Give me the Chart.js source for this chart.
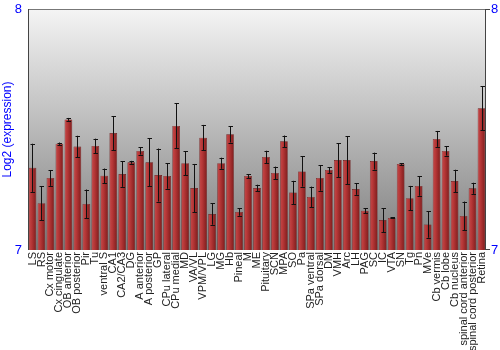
<!DOCTYPE html>
<html><head><meta charset="utf-8">
<script src="https://cdn.jsdelivr.net/npm/chart.js@4/dist/chart.umd.min.js"></script>
<style>html,body{margin:0;padding:0;background:#fff}#wrap{width:500px;height:350px}</style>
</head><body><div id="wrap"><canvas id="c" width="500" height="350"></canvas></div>
<script>
const categories = ["LS","RS","Cx motor","Cx cingulate","OB anterior","OB posterior","Pir","Tu","ventral S","CA1","CA2/CA3","DG","A anterior","A posterior","GP","CPu lateral","CPu medial","MD","VA/VL","VPM/VPL","LG","MG","Hb","Pineal","M","ME","Pituitary","SCN","MPA","SO","Pa","SPa ventral","SPa dorsal","DM","VMH","Arc","LH","PAG","SC","IC","VTA","SN","Tg","Pn","MVe","Cb vermis","Cb lobe","Cb nucleus","spinal cord anterior","spinal cord posterior","Retina"];
const values = [7.341,7.194,7.299,7.441,7.542,7.429,7.191,7.432,7.308,7.485,7.315,7.364,7.411,7.364,7.311,7.307,7.515,7.36,7.257,7.466,7.149,7.36,7.48,7.158,7.307,7.257,7.386,7.32,7.451,7.239,7.326,7.22,7.299,7.332,7.373,7.373,7.253,7.163,7.369,7.124,7.133,7.357,7.215,7.266,7.106,7.461,7.411,7.286,7.141,7.256,7.588];
const errors = [0.10,0.07,0.033,0.005,0.006,0.045,0.06,0.03,0.03,0.07,0.053,0.006,0.015,0.10,0.11,0.053,0.093,0.05,0.10,0.053,0.044,0.023,0.034,0.016,0.008,0.014,0.026,0.026,0.024,0.048,0.063,0.043,0.053,0.012,0.07,0.10,0.024,0.01,0.035,0.05,0.002,0.004,0.051,0.041,0.055,0.033,0.019,0.047,0.06,0.023,0.091];
const yTicks = [7, 8];
const yTitle = "Log2 (expression)";

const BAR_FRAC = 0.86;

const bgPlugin = {
  id: 'bg',
  beforeDraw(chart) {
    const {ctx, chartArea: a} = chart;
    const g = ctx.createLinearGradient(0, a.top, 0, a.bottom);
    g.addColorStop(0, '#f4f4f4');
    g.addColorStop(1, '#7e7e7e');
    ctx.save();
    ctx.fillStyle = g;
    ctx.fillRect(a.left, a.top, a.right - a.left, a.bottom - a.top);
    ctx.restore();
  },
  afterDatasetsDraw(chart) {
    const {ctx, chartArea: a, scales} = chart;
    const x = scales.x, y = scales.y;
    ctx.save();
    ctx.strokeStyle = '#111';
    ctx.lineWidth = 1;
    values.forEach((v, i) => {
      const px = Math.round(x.getPixelForValue(i)) + 0.5;
      const top = y.getPixelForValue(v + errors[i]);
      const bot = y.getPixelForValue(v - errors[i]);
      ctx.beginPath();
      ctx.moveTo(px, top); ctx.lineTo(px, bot);
      ctx.moveTo(px - 2, Math.round(top) + 0.5); ctx.lineTo(px + 2.5, Math.round(top) + 0.5);
      ctx.moveTo(px - 2, Math.round(bot) + 0.5); ctx.lineTo(px + 2.5, Math.round(bot) + 0.5);
      ctx.stroke();
    });
    ctx.strokeStyle = '#777';
    ctx.beginPath();
    ctx.moveTo(a.left, a.top + 0.5); ctx.lineTo(a.right, a.top + 0.5);
    ctx.stroke();
    ctx.strokeStyle = '#444';
    ctx.beginPath();
    ctx.moveTo(a.left + 0.5, a.top); ctx.lineTo(a.left + 0.5, a.bottom);
    ctx.moveTo(a.right - 0.5, a.top); ctx.lineTo(a.right - 0.5, a.bottom);
    ctx.moveTo(a.right, a.top + 0.5); ctx.lineTo(a.right + 4, a.top + 0.5);
    ctx.moveTo(a.right, a.bottom - 0.5); ctx.lineTo(a.right + 4, a.bottom - 0.5);
    ctx.stroke();
    ctx.restore();
  }
};

function barColor(context) {
  const chart = context.chart;
  const x = chart.scales && chart.scales.x;
  if (!x || x.width === undefined || !isFinite(x.getPixelForValue(context.dataIndex))) return '#b03434';
  const c = x.getPixelForValue(context.dataIndex);
  const w = (x.width / categories.length) * BAR_FRAC;
  const g = chart.ctx.createLinearGradient(c - w / 2, 0, c + w / 2, 0);
  g.addColorStop(0, '#c24a4a');
  g.addColorStop(0.35, '#b83838');
  g.addColorStop(1, '#7e1c1c');
  return g;
}

new Chart(document.getElementById('c'), {
  type: 'bar',
  data: {
    labels: categories,
    datasets: [{
      data: values,
      backgroundColor: barColor,
      borderColor: '#6a1a1a',
      borderWidth: 0.6,
      borderSkipped: false,
      barPercentage: BAR_FRAC,
      categoryPercentage: 1.0
    }]
  },
  options: {
    responsive: false,
    animation: false,
    devicePixelRatio: 1,
    layout: { padding: { top: 9, left: 0, right: 0, bottom: 0 } },
    plugins: { legend: { display: false }, tooltip: { enabled: false } },
    scales: {
      x: {
        grid: { display: false, drawTicks: false },
        border: { display: false },
        ticks: {
          minRotation: 90, maxRotation: 90, autoSkip: false, padding: 2,
          color: '#222', font: { family: 'Liberation Sans, Arial', size: 11 }
        },
        afterFit(s) { s.height = 100; }
      },
      y: {
        min: 7, max: 8,
        afterBuildTicks(s) { s.ticks = yTicks.map(v => ({ value: v })); },
        grid: { display: false, drawTicks: true, tickLength: 3, color: '#444' },
        border: { display: false },
        ticks: { color: '#0000ff', padding: 3, font: { family: 'Liberation Sans, Arial', size: 13 } },
        title: { display: true, text: yTitle, color: '#0000ff', padding: { top: 0, bottom: 2 }, font: { family: 'Liberation Sans, Arial', size: 12 } },
        afterFit(s) { s.width = 28; s.paddingTop = 0; s.paddingBottom = 0; }
      },
      y2: {
        position: 'right',
        min: 7, max: 8,
        afterBuildTicks(s) { s.ticks = yTicks.map(v => ({ value: v })); },
        grid: { display: false, drawOnChartArea: false, drawTicks: false, tickLength: 0 },
        border: { display: false },
        ticks: { color: '#0000ff', padding: 5, font: { family: 'Liberation Sans, Arial', size: 13 } },
        afterFit(s) { s.width = 14; s.paddingTop = 0; s.paddingBottom = 0; }
      }
    }
  },
  plugins: [bgPlugin]
});
</script></body></html>
